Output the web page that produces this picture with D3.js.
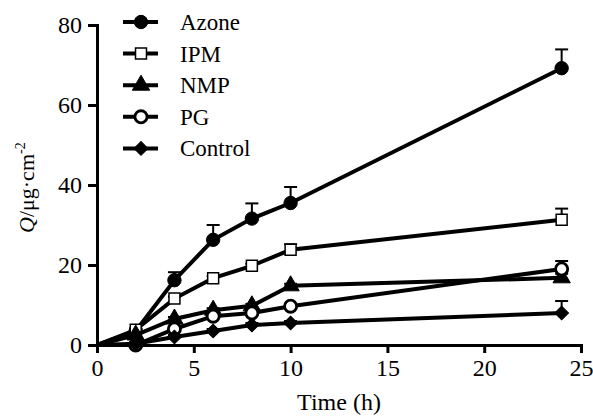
<!DOCTYPE html>
<html>
<head>
<meta charset="utf-8">
<script src="https://cdn.jsdelivr.net/npm/d3@7"></script>
<style>
  body { margin: 0; background: #fff; }
</style>
</head>
<body>
<div class="canvas"></div>
<script>
// data
const times = [0, 2, 4, 6, 8, 10, 24];
const seriesNames = ['Azone', 'IPM', 'NMP', 'PG', 'Control'];
const azone = [0, 3.5, 16.2, 26.3, 31.6, 35.5, 69.2];
const azoneErr = [0, 0.5, 2.0, 3.7, 3.8, 4.0, 4.7];
const ipm = [0, 3.8, 11.6, 16.7, 19.8, 23.8, 31.3];
const ipmErr = [0, 0.3, 0.5, 0.5, 0.5, 1.4, 2.8];
const nmp = [0, 2.5, 6.5, 8.7, 9.8, 14.8, 16.8];
const nmpErr = [0, 0.3, 0.5, 0.5, 0.5, 0.5, 1.0];
const pg = [0, 0, 4.0, 7.2, 8.0, 9.7, 19.0];
const pgErr = [0, 0.3, 0.5, 0.5, 0.8, 0.5, 2.0];
const control = [0, 0.3, 2.0, 3.5, 5.0, 5.5, 8.0];
const controlErr = [0, 0.3, 0.5, 0.5, 0.5, 0.5, 3.0];
const xTicks = [0, 5, 10, 15, 20, 25];
const yTicks = [0, 20, 40, 60, 80];

const values = [azone, ipm, nmp, pg, control];
const errors = [azoneErr, ipmErr, nmpErr, pgErr, controlErr];

const width = 593, height = 416;
const margin = {top: 25, right: 12, bottom: 71, left: 97};
const graphWidth = width - margin.left - margin.right;
const graphHeight = height - margin.top - margin.bottom;
const serif = "'Liberation Serif'";

const svg = d3.select('.canvas')
  .append('svg')
  .attr('width', width)
  .attr('height', height);

const graph = svg.append('g')
  .attr('transform', `translate(${margin.left},${margin.top})`);

const x = d3.scaleLinear().domain([0, 25]).range([0, graphWidth]);
const y = d3.scaleLinear().domain([0, 80]).range([graphHeight, 0]);

// marker styles per series (diamond = square turned 45deg)
const markers = [
  {type: d3.symbolCircle, size: 140, fill: '#000', rot: 0, sw: 1},
  {type: d3.symbolSquare, size: 120, fill: '#fff', rot: 0, sw: 1.5},
  {type: d3.symbolTriangle, size: 130, fill: '#000', rot: 0, sw: 1},
  {type: d3.symbolCircle, size: 115, fill: '#fff', rot: 0, sw: 2.8},
  {type: d3.symbolSquare, size: 95, fill: '#000', rot: 45, sw: 1}
];

const line = d3.line()
  .x(d => x(d.t))
  .y(d => y(d.v));

// axes
const xAxis = d3.axisBottom(x).tickValues(xTicks).tickSize(8).tickPadding(6);
const yAxis = d3.axisLeft(y).tickValues(yTicks).tickSize(9).tickPadding(6);

const xAxisGroup = graph.append('g')
  .attr('transform', `translate(0,${graphHeight})`)
  .call(xAxis);
const yAxisGroup = graph.append('g').call(yAxis);

[xAxisGroup, yAxisGroup].forEach(g => {
  g.select('.domain').attr('stroke-width', 3).attr('stroke', '#000');
  g.selectAll('.tick line').attr('stroke-width', 3).attr('stroke', '#000');
  g.selectAll('.tick text').attr('fill', '#000').style('font-size', '24px');
});

// series: lines, error bars, markers
seriesNames.forEach((name, i) => {
  const pts = times.map((t, j) => ({t: t, v: values[i][j], e: errors[i][j]}));
  const g = graph.append('g').attr('class', 'series');

  g.append('path')
    .datum(pts)
    .attr('d', line)
    .attr('fill', 'none')
    .attr('stroke', '#000')
    .attr('stroke-width', 4);

  const bars = g.selectAll('.err')
    .data(pts.filter(d => d.t > 0))
    .enter()
    .append('g')
    .attr('class', 'err');
  bars.append('line')
    .attr('x1', d => x(d.t)).attr('x2', d => x(d.t))
    .attr('y1', d => y(d.v)).attr('y2', d => y(d.v + d.e))
    .attr('stroke', '#000').attr('stroke-width', 2);
  bars.append('line')
    .attr('x1', d => x(d.t) - 6.5).attr('x2', d => x(d.t) + 6.5)
    .attr('y1', d => y(d.v + d.e)).attr('y2', d => y(d.v + d.e))
    .attr('stroke', '#000').attr('stroke-width', 2);

  const m = markers[i];
  g.selectAll('.marker')
    .data(pts.filter(d => d.t > 0))
    .enter()
    .append('path')
    .attr('class', 'marker')
    .attr('d', d3.symbol().type(m.type).size(m.size))
    .attr('transform', d => `translate(${x(d.t)},${y(d.v)}) rotate(${m.rot})`)
    .attr('fill', m.fill)
    .attr('stroke', '#000')
    .attr('stroke-width', m.sw);
});

// legend
const legend = svg.append('g').attr('transform', 'translate(123,22)');
seriesNames.forEach((name, i) => {
  const row = legend.append('g').attr('transform', `translate(0,${i * 31.6})`);
  row.append('line')
    .attr('x1', 0).attr('x2', 35)
    .attr('stroke', '#000').attr('stroke-width', 4);
  const m = markers[i];
  row.append('path')
    .attr('d', d3.symbol().type(m.type).size(m.size))
    .attr('transform', `translate(18,0) rotate(${m.rot})`)
    .attr('fill', m.fill)
    .attr('stroke', '#000')
    .attr('stroke-width', m.sw);
  row.append('text')
    .attr('x', 57)
    .attr('y', 8)
    .style('font-size', '23px')
    .text(name);
});

// axis titles
svg.append('text')
  .attr('x', margin.left + x(12.5))
  .attr('y', 410)
  .attr('text-anchor', 'middle')
  .style('font-size', '24px')
  .text('Time (h)');

const yTitle = svg.append('text')
  .attr('transform', 'translate(34,233) rotate(-90)')
  .attr('text-anchor', 'start')
  .style('font-size', '22px');
yTitle.append('tspan').style('font-style', 'italic').text('Q');
yTitle.append('tspan').text('/μg·cm');
yTitle.append('tspan').attr('dy', -9).style('font-size', '14px').text('-2');

// same serif face for every label
svg.selectAll('text').style('font-family', serif);
</script>
</body>
</html>
